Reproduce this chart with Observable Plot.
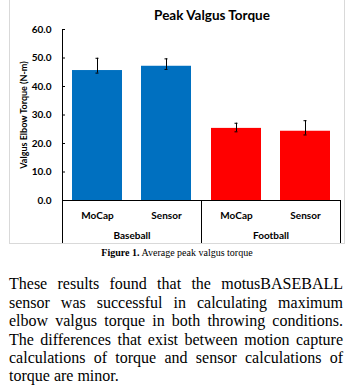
<!DOCTYPE html>
<html>
<head>
<meta charset="utf-8">
<script src="https://cdn.jsdelivr.net/npm/d3@7"></script>
<script src="https://cdn.jsdelivr.net/npm/@observablehq/plot@0.6"></script>
<style>
  html, body { margin: 0; padding: 0; background: #fff; }
  body { position: relative; width: 354px; height: 392px; overflow: hidden; }
  #box { position: absolute; left: 9px; top: -3px; width: 336px; height: 247px; border: 1px solid #d9d9d9; box-sizing: border-box; }
  #chart { position: absolute; left: 0; top: 0; }
  #title { position: absolute; left: 112px; top: 9px; width: 200px; text-align: center;
           font: bold 13.5px/13.5px Lato, sans-serif; color: #000; white-space: nowrap; }
  #caption { position: absolute; left: 0; top: 246.6px; width: 354px; text-align: center;
             font: 10px/12px "Liberation Serif", serif; color: #000; }
  #para { position: absolute; left: 9px; top: 275.4px; width: 334px;
          font: 16px/18.4px "Liberation Serif", serif; color: #000; }
  #para div { text-align: justify; text-align-last: justify; white-space: nowrap; }
  #para div.last { text-align-last: left; }
</style>
</head>
<body>
<div id="box"></div>
<div id="chart"></div>
<div id="title">Peak Valgus Torque</div>
<div id="caption"><b>Figure 1.</b> Average peak valgus torque</div>
<div id="para">
  <div>These results found that the motusBASEBALL</div>
  <div>sensor was successful in calculating maximum</div>
  <div>elbow valgus torque in both throwing conditions.</div>
  <div>The differences that exist between motion capture</div>
  <div>calculations of torque and sensor calculations of</div>
  <div class="last">torque are minor.</div>
</div>
<script>
// ---- data ----
const groupNames = ["Baseball", "Football"];
const groupColors = ["#0070C0", "#FF0000"];
const groups = ["Baseball", "Baseball", "Football", "Football"];
const conditions = ["MoCap", "Sensor", "MoCap", "Sensor"];
const means = [45.6, 47.1, 25.3, 24.3];
const errLow = [44.7, 46.0, 24.1, 23.0];
const errHigh = [49.9, 49.7, 27.1, 28.0];
const yTicks = [0, 10, 20, 30, 40, 50, 60];
const yLabel = "Valgus Elbow Torque (N-m)";

const data = groups.map((g, i) => ({
  group: g, condition: conditions[i], value: means[i], low: errLow[i], high: errHigh[i]
}));

const chart = Plot.plot({
  width: 354,
  height: 246,
  marginLeft: 61,
  marginRight: 14,
  marginTop: 29,
  marginBottom: 46,
  style: { fontFamily: "Lato, sans-serif", fontSize: "10px", fontWeight: "bold", color: "#000", background: "transparent" },
  fx: { domain: groupNames, padding: 0, label: null },
  x: { domain: ["MoCap", "Sensor"], paddingInner: 0.28, paddingOuter: 0.14, label: null },
  y: { domain: [0, 60], label: null },
  color: { domain: groupNames, range: groupColors },
  marks: [
    Plot.barY(data, { fx: "group", x: "condition", y: "value", fill: "group" }),
    Plot.ruleX(data, { fx: "group", x: "condition", y1: "low", y2: "high", stroke: "#000", strokeWidth: 1 }),
    Plot.tickY(data, { fx: "group", x: "condition", y: "high", stroke: "#000", insetLeft: 23.5, insetRight: 23.5 }),
    Plot.tickY(data, { fx: "group", x: "condition", y: "low", stroke: "#000", insetLeft: 23.5, insetRight: 23.5 }),
    Plot.ruleY([0], { stroke: "#000", strokeWidth: 1 }),
    Plot.axisY({ ticks: yTicks, tickFormat: d => d.toFixed(1), tickSize: 0, tickPadding: 11, label: null }),
    Plot.axisY({ ticks: yTicks, tickFormat: () => "", tickSize: -3, tickPadding: 0, label: yLabel,
                 labelArrow: "none", labelAnchor: "center", labelOffset: 42, fontSize: 9 }),
    Plot.axisX({ anchor: "bottom", tickSize: 0, tickPadding: 11, label: null }),
    Plot.axisFx({ anchor: "bottom", tickSize: 0, tickPadding: 31, label: null })
  ]
});
document.getElementById("chart").appendChild(chart);

// strip a label arrow if this Plot build still adds one
d3.select(chart).selectAll("text").each(function () {
  const t = this.textContent;
  if (t.includes(yLabel) && t !== yLabel) this.textContent = yLabel;
});

// category-axis separators and y-axis line, positioned from the plot's own scales
const svg = d3.select(chart.tagName.toLowerCase() === "svg" ? chart : chart.querySelector("svg"));
const fxs = chart.scale("fx");
const ys = chart.scale("y");
const yTop = ys.apply(60), y0 = ys.apply(0), yBottom = 243;
const edges = groupNames.map(g => fxs.apply(g));
edges.push(fxs.apply(groupNames[groupNames.length - 1]) + fxs.bandwidth);
const g = svg.append("g").attr("stroke", "#000").attr("stroke-width", 1);
edges.forEach((ex, i) => {
  const xx = Math.round(ex) + 0.5;
  g.append("line").attr("x1", xx).attr("x2", xx)
    .attr("y1", i === 0 ? yTop : y0).attr("y2", yBottom);
});
</script>
</body>
</html>
